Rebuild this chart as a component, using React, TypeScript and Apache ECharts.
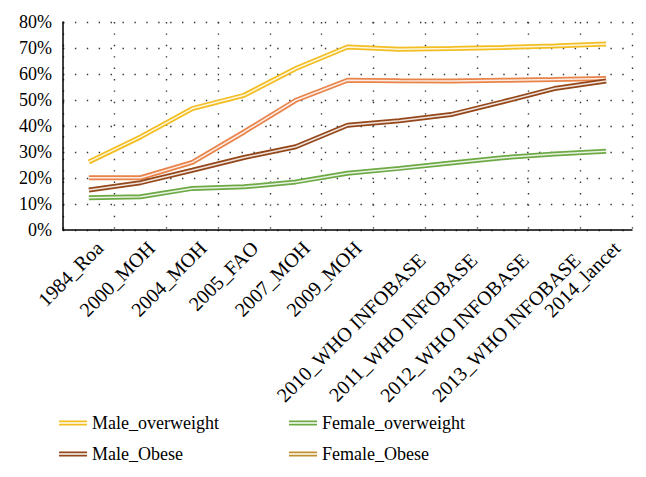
import React, { useEffect, useRef } from "react";
import * as echarts from "echarts";

const categories = [
  "1984_Roa",
  "2000_MOH",
  "2004_MOH",
  "2005_FAO",
  "2007_MOH",
  "2009_MOH",
  "2010_WHO INFOBASE",
  "2011_WHO INFOBASE",
  "2012_WHO INFOBASE",
  "2013_WHO INFOBASE",
  "2014_lancet",
];

const maleOverweight = [26.2, 35.8, 46.7, 51.8, 62.1, 70.4, 69.5, 69.8, 70.2, 70.8, 71.5];
const femaleObese = [20.1, 20.1, 26.0, 37.7, 49.9, 57.6, 57.4, 57.3, 57.6, 57.9, 58.3];
const maleObese = [15.4, 18.2, 23.0, 27.9, 32.0, 40.3, 42.0, 44.4, 49.3, 54.4, 57.3];
const femaleOverweight = [12.4, 12.8, 16.0, 16.6, 18.5, 21.8, 23.7, 25.8, 27.8, 29.2, 30.3];

const yTicks = { min: 0, max: 80, interval: 10 };

const FONT = "Liberation Serif";

const lines = [
  { name: "Male_overweight", data: maleOverweight, color: "#F2BE22", legendColor: "#F2BE22" },
  { name: "Female_Obese", data: femaleObese, color: "#E8834A", legendColor: "#C0902E" },
  { name: "Male_Obese", data: maleObese, color: "#94471A", legendColor: "#94471A" },
  { name: "Female_overweight", data: femaleOverweight, color: "#6DAA45", legendColor: "#6DAA45" },
];

const legendPos: Record<string, { left: number; top: number }> = {
  Male_overweight: { left: 59, top: 414 },
  Female_overweight: { left: 289, top: 414 },
  Male_Obese: { left: 59, top: 445 },
  Female_Obese: { left: 289, top: 445 },
};

const ICON = "path://M0,0H28V1.7H0Z M0,3.3H28V5H0Z";

export default function App() {
  const ref = useRef<HTMLDivElement>(null);
  useEffect(() => {
    document.body.style.margin = "0";
    if (!ref.current) return;
    const chart = echarts.init(ref.current, undefined, { renderer: "svg" });
    const series: any[] = [];
    lines.forEach((l) => {
      series.push({
        type: "line",
        name: l.name,
        data: l.data,
        symbol: "none",
        silent: true,
        lineStyle: { color: l.color, width: 5 },
        itemStyle: { color: l.color },
        emphasis: { disabled: true },
      });
      series.push({
        type: "line",
        name: l.name,
        data: l.data,
        symbol: "none",
        silent: true,
        lineStyle: { color: "#FFFFFF", width: 1.5, opacity: 0.85 },
        itemStyle: { color: l.color },
        emphasis: { disabled: true },
      });
    });
    const legends = lines.map((l) => ({
      data: [
        {
          name: l.name,
          icon: ICON,
          itemStyle: { color: l.legendColor, borderWidth: 0 },
        },
      ],
      left: legendPos[l.name].left,
      top: legendPos[l.name].top,
      padding: 0,
      itemWidth: 28,
      itemHeight: 5,
      selectedMode: false,
      textStyle: { fontFamily: FONT, fontSize: 18, color: "#000" },
    }));
    // long rotated labels sit a little further right/down, as in the reference
    const xData = categories.map((c) => ({
      value: c,
      textStyle: { lineHeight: c.length > 12 ? 64 : 30 },
    }));
    chart.setOption({
      animation: false,
      textStyle: { fontFamily: FONT },
      grid: { left: 63, right: 14, top: 22, bottom: 247, containLabel: false },
      legend: legends,
      xAxis: {
        type: "category",
        data: xData,
        boundaryGap: true,
        axisLine: { lineStyle: { color: "#000", width: 1.5 } },
        axisTick: { show: false },
        splitLine: {
          show: true,
          lineStyle: { color: "#333", width: 1.4, type: [1.4, 10] },
        },
        axisLabel: {
          rotate: 45,
          interval: 0,
          fontFamily: FONT,
          fontSize: 20,
          lineHeight: 30,
          color: "#000",
          margin: 4,
          formatter: (v: string) => "\n" + v,
        },
      },
      yAxis: {
        type: "value",
        min: yTicks.min,
        max: yTicks.max,
        interval: yTicks.interval,
        axisLine: { show: true, lineStyle: { color: "#000", width: 1.5 } },
        axisTick: { show: false },
        splitLine: {
          show: true,
          lineStyle: { color: "#333", width: 1.4, type: [1.4, 10.5] },
        },
        axisLabel: {
          formatter: "{value}%",
          fontFamily: FONT,
          fontSize: 18,
          color: "#000",
          margin: 11,
        },
      },
      series,
    });
    return () => chart.dispose();
  }, []);
  return <div ref={ref} style={{ width: 646, height: 477 }} />;
}
